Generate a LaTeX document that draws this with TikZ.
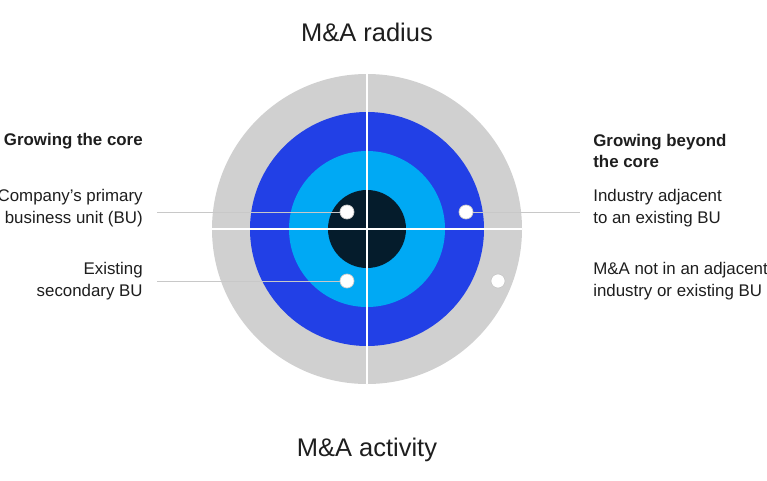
\documentclass[tikz,border=0pt]{standalone}
\usepackage{fontspec}
\setmainfont{Liberation Sans}
\definecolor{Ring}{RGB}{208,208,208}
\definecolor{Blue}{RGB}{34,64,230}
\definecolor{Cyan}{RGB}{0,169,244}
\definecolor{Navy}{RGB}{5,28,44}
\definecolor{Rule}{RGB}{200,200,200}
\definecolor{Ink}{RGB}{30,30,30}
\tikzset{
  body/.style={text=Ink,font=\fontsize{9.6}{12.2}\selectfont,inner sep=0pt},
  head/.style={body,font=\fontsize{9.6}{12.2}\selectfont\bfseries},
  title/.style={text=Ink,font=\fontsize{14.5}{18}\selectfont,inner sep=0pt},
  dot/.style={circle,fill=white,draw=Rule,line width=0.4pt,inner sep=0pt,minimum size=8pt},
}
\begin{document}
\begin{tikzpicture}[x=0.02cm,y=-0.02cm]
\clip (0,0) rectangle (767,480);
\fill[white] (0,0) rectangle (767,480);

% rings
\fill[Ring] (367,229) circle (155);
\fill[Blue] (367,229) circle (117);
\fill[Cyan] (367,229) circle (78);
\fill[Navy] (367,229) circle (39);
\draw[white,line width=0.8pt] (367,74) -- (367,384);
\draw[white,line width=0.8pt] (212,229) -- (522,229);

% markers
\node[dot] (core) at (347,212) {};
\node[dot] (second) at (347,281) {};
\node[dot] (adjacent) at (466,212) {};
\node[dot] (beyond) at (498,281) {};

% labels
\node[title] (radius) at (367,32) {M\&A radius};
\node[title] (activity) at (367,450) {M\&A activity};

\node[head,anchor=east] (leftHead) at (143,141) {Growing the core};
\node[body,anchor=east,align=right] (primary) at (143,208) {Company’s primary\\business unit (BU)};
\node[body,anchor=east,align=right] (secondary) at (143,281) {Existing\\secondary BU};

\node[head,anchor=west,align=left] (rightHead) at (593,151) {Growing beyond\\the core};
\node[body,anchor=west,align=left] (industry) at (593,208) {Industry adjacent\\to an existing BU};
\node[body,anchor=west,align=left] (other) at (593,281) {M\&A not in an adjacent\\industry or existing BU};

% leaders
\coordinate (l1) at (157,212);
\coordinate (l2) at (157,281);
\coordinate (r1) at (580,212);
\draw[Rule,line width=0.5pt] (l1) -- (core);
\draw[Rule,line width=0.5pt] (l2) -- (second);
\draw[Rule,line width=0.5pt] (adjacent) -- (r1);
\end{tikzpicture}
\end{document}
